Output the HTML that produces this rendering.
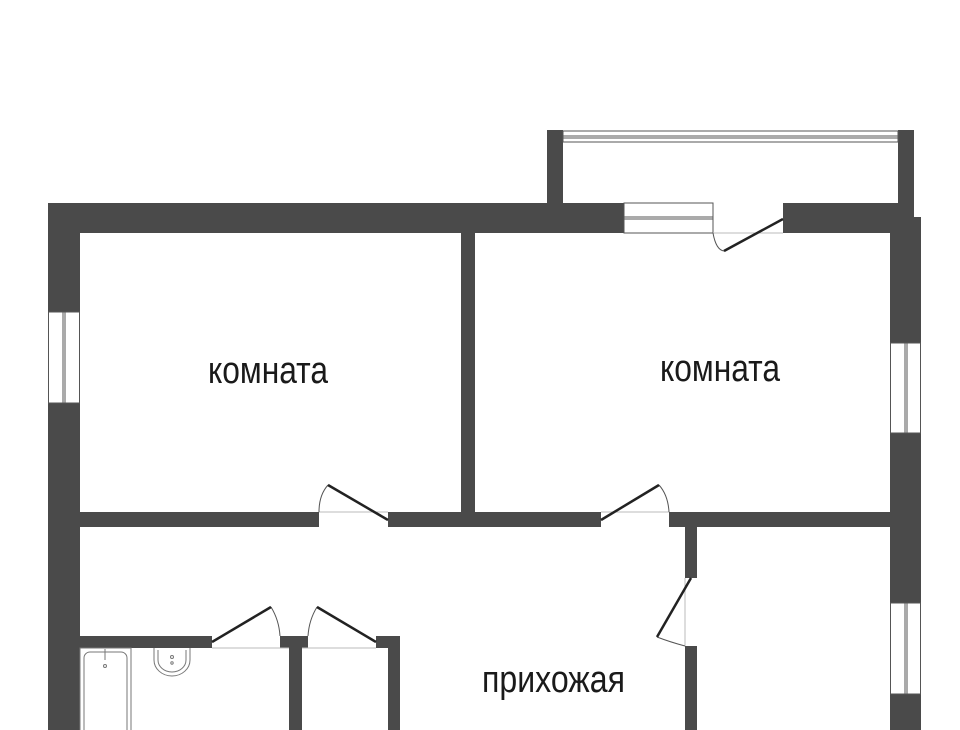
<!DOCTYPE html>
<html><head><meta charset="utf-8"><style>
html,body{margin:0;padding:0;background:#fff;width:960px;height:730px;overflow:hidden}
svg{display:block}
</style></head><body>
<svg width="960" height="730" viewBox="0 0 960 730" xmlns="http://www.w3.org/2000/svg">
<g fill="#4a4a4a">
<!-- balcony walls -->
<rect x="547" y="130" width="16" height="75"/>
<rect x="898" y="130" width="16" height="88"/>
<!-- top outer wall -->
<rect x="48" y="203" width="576" height="30"/>
<rect x="783" y="203" width="115" height="30"/>
<!-- right outer wall -->
<rect x="890" y="217" width="31" height="126"/>
<rect x="890" y="433" width="31" height="170"/>
<rect x="890" y="694" width="31" height="40"/>
<!-- left outer wall -->
<rect x="48" y="203" width="32" height="109"/>
<rect x="48" y="403" width="32" height="330"/>
<!-- interior room divider -->
<rect x="461" y="233" width="14" height="280"/>
<!-- horizontal wall -->
<rect x="80" y="512" width="239" height="15"/>
<rect x="388" y="512" width="213" height="15"/>
<rect x="669" y="512" width="221" height="15"/>
<!-- vertical hall wall -->
<rect x="685" y="527" width="12" height="51"/>
<rect x="685" y="646" width="12" height="90"/>
<!-- lower walls -->
<rect x="80" y="636" width="132" height="12"/>
<rect x="280" y="636" width="28" height="12"/>
<rect x="289" y="648" width="13" height="90"/>
<rect x="376" y="636" width="24" height="12"/>
<rect x="388" y="648" width="12" height="90"/>
</g>
<g fill="none" stroke="#555" stroke-width="1">
<!-- balcony glazing -->
<rect x="563" y="131" width="335" height="11" fill="#fff"/>
<line x1="563" y1="136" x2="898" y2="136"/>
<line x1="563" y1="138" x2="898" y2="138"/>
<!-- top window -->
<rect x="624" y="203" width="89" height="30"/>
<line x1="624" y1="217" x2="713" y2="217"/>
<line x1="624" y1="219" x2="713" y2="219"/>
<!-- left window -->
<rect x="48.5" y="312" width="31" height="91"/>
<line x1="63" y1="312" x2="63" y2="403"/>
<line x1="65" y1="312" x2="65" y2="403"/>
<!-- right windows -->
<rect x="890.5" y="343" width="30" height="90"/>
<line x1="905" y1="343" x2="905" y2="433"/>
<line x1="907" y1="343" x2="907" y2="433"/>
<rect x="890.5" y="603" width="30" height="91"/>
<line x1="905" y1="603" x2="905" y2="694"/>
<line x1="907" y1="603" x2="907" y2="694"/>
<!-- door thresholds -->
<g stroke="#bbb">
<line x1="713" y1="233" x2="783" y2="233"/>
<line x1="319" y1="512" x2="388" y2="512"/>
<line x1="601" y1="512" x2="669" y2="512"/>
<line x1="685" y1="578" x2="685" y2="646"/>
<line x1="212" y1="648" x2="289" y2="648"/>
<line x1="302" y1="648" x2="376" y2="648"/>
</g>
<!-- door arcs -->
<path d="M713 233 Q716 250 724 251"/>
<path d="M319 512 Q319 495 328 485"/>
<path d="M669 512 Q668 495 659 485"/>
<path d="M685 646 Q670 642 657 637"/>
<path d="M280 636 Q279 620 271 607"/>
<path d="M308 636 Q309 620 317 607"/>
</g>
<g stroke="#222" stroke-width="2.5" fill="none">
<line x1="783" y1="219" x2="724" y2="251"/>
<line x1="388" y1="520" x2="328" y2="485"/>
<line x1="601" y1="520" x2="659" y2="485"/>
<line x1="691" y1="578" x2="657" y2="637"/>
<line x1="212" y1="642" x2="271" y2="607"/>
<line x1="376" y1="642" x2="317" y2="607"/>
</g>
<!-- bath & sink -->
<g fill="none" stroke="#777" stroke-width="1">
<rect x="80" y="648" width="51" height="90"/>
<rect x="84" y="652" width="43" height="90" rx="6"/>
<circle cx="105" cy="666" r="1.5"/>
<line x1="105" y1="649" x2="105" y2="660"/>
<path d="M154 648 L154 660 A18 16 0 0 0 190 660 L190 648"/>
<path d="M158 650 L158 660 A14 12 0 0 0 186 660 L186 650"/>
<circle cx="172" cy="657" r="1.5"/>
<circle cx="172" cy="663" r="1.2"/>
</g>
<g font-family="'Liberation Sans', sans-serif" font-size="38" fill="#1a1a1a">
<text x="208" y="383" textLength="120" lengthAdjust="spacingAndGlyphs">комната</text>
<text x="660" y="381" textLength="120" lengthAdjust="spacingAndGlyphs">комната</text>
<text x="482" y="692" textLength="143" lengthAdjust="spacingAndGlyphs">прихожая</text>
</g>
</svg>
</body></html>
